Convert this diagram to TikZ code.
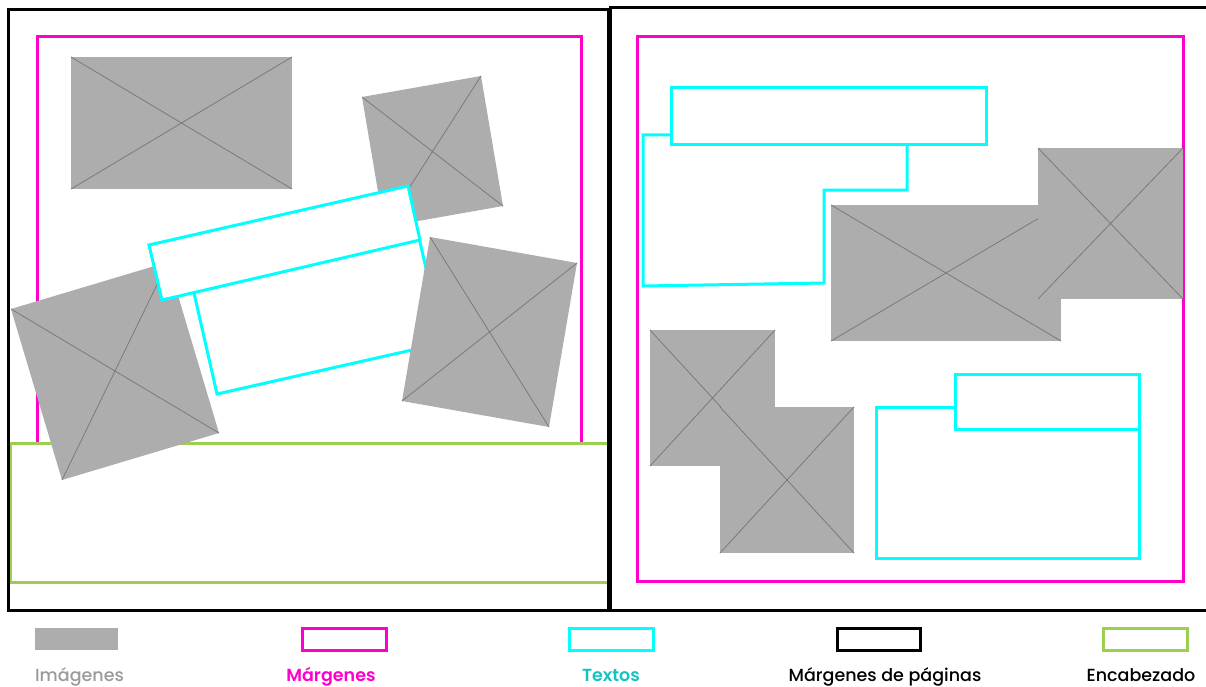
\documentclass[tikz,border=0pt]{standalone}
\usepackage{fontspec}
\setmainfont{Poppins}[UprightFont={* Medium},BoldFont={* SemiBold}]
\definecolor{imggray}{HTML}{ADADAD}
\definecolor{diaggray}{HTML}{7A7A7A}
\definecolor{mag}{HTML}{FF00CC}
\definecolor{cyn}{HTML}{00FFFF}
\definecolor{cyntext}{HTML}{14C4C4}
\definecolor{grn}{HTML}{9BCF50}
\definecolor{lbgray}{HTML}{9A9A9A}
\tikzset{
  pageframe/.style={draw=black,line width=3pt},
  marginbox/.style={draw=mag,line width=3pt},
  txtbox/.style={draw=cyn,line width=3pt,line join=miter},
  headerbox/.style={draw=grn,line width=3pt,fill=white},
  imgfill/.style={fill=imggray},
  imgdiag/.style={draw=diaggray,line width=0.8pt},
  legendlabel/.style={font=\fontsize{17.5}{20}\selectfont,anchor=base,inner sep=0pt}
}
\newcommand{\imgquad}[4]{\fill[imgfill] #1--#2--#3--#4--cycle; \draw[imgdiag] #1--#3 #2--#4;}
\begin{document}
\begin{tikzpicture}[x=1pt,y=-1pt]
\useasboundingbox[fill=white] (0,0) rectangle (1206,687);

% ---------- left page ----------
\draw[marginbox] (37,37) rectangle (581,581);
\draw[headerbox] (10,443) rectangle (608,582);
\imgquad{(71,57)}{(292,57)}{(292,189)}{(71,189)}
\imgquad{(362,97)}{(481,76)}{(503,206)}{(384,227)}
\imgquad{(11,309)}{(168,262)}{(219,433)}{(62,480)}
% text box 2 (under box 1)
\draw[txtbox,fill=white] (192.6,286.8) -- (418.5,235.4) -- (443,343) -- (217,394) -- cycle;
% text box 1
\draw[txtbox,fill=white] (149,245) -- (408,186) -- (420,240) -- (162,300) -- cycle;
\imgquad{(430,237)}{(577,263)}{(549,427)}{(402,401)}
\draw[pageframe] (8,10) rectangle (608,610);

% ---------- right page ----------
\draw[marginbox] (637.5,36.5) rectangle (1183,581.5);
\draw[txtbox] (671,88) rectangle (986,145);
\draw[txtbox] (671,135) -- (643,135) -- (643,286) -- (824,283) -- (824,190) -- (907,190) -- (907,145);
\imgquad{(831,205)}{(1061,205)}{(1061,341)}{(831,341)}
\imgquad{(1038,148)}{(1183,148)}{(1183,299)}{(1038,299)}
\imgquad{(650,330)}{(775,330)}{(775,466)}{(650,466)}
\imgquad{(720,407)}{(854,407)}{(854,553)}{(720,553)}
\draw[txtbox] (955,374) rectangle (1139,429);
\draw[txtbox] (955,407) -- (876,407) -- (876,558) -- (1139,558) -- (1139,429);
\draw[pageframe] (610,8) rectangle (1220,610);

% ---------- legend ----------
\fill[imgfill] (35,628) rectangle (118,650);
\draw[marginbox,line width=3pt] (302,628) rectangle (386,650);
\draw[txtbox,line width=3pt] (569,628) rectangle (653,650);
\draw[pageframe,line width=3pt] (837,628) rectangle (920,650);
\draw[headerbox,line width=3pt] (1103,628) rectangle (1187,650);
\node[legendlabel,text=lbgray] (limg) at (79.5,681) {Imágenes};
\node[legendlabel,text=mag] (lmar) at (331,681) {\bfseries Márgenes};
\node[legendlabel,text=cyntext] (ltxt) at (611,681) {\bfseries Textos};
\node[legendlabel,text=black] (lpag) at (885,681) {Márgenes de páginas};
\node[legendlabel,text=black] (lenc) at (1141,681) {Encabezado};
\end{tikzpicture}
\end{document}
